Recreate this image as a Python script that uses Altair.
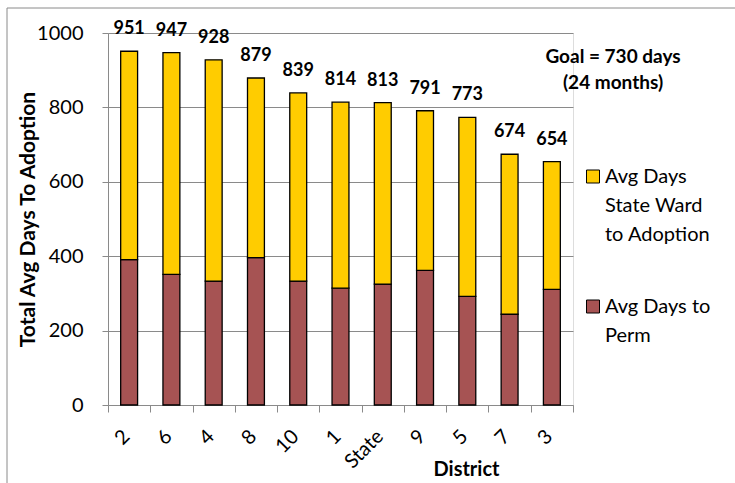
import altair as alt
import pandas as pd

# District order as plotted (sorted by total days, descending)
districts = ["2", "6", "4", "8", "10", "1", "State", "9", "5", "7", "3"]
# Total average days to adoption (labels above bars)
total_days = [951, 947, 928, 879, 839, 814, 813, 791, 773, 674, 654]
# Average days to permanency (lower segment)
perm_days = [391, 351, 333, 396, 333, 314, 325, 362, 292, 244, 311]

series_ward = "Avg Days State Ward to Adoption"
series_perm = "Avg Days to Perm"
series_colors = ["#FFCC00", "#A65353"]
goal_lines = ["Goal = 730 days", "(24 months)"]
y_ticks = [0, 200, 400, 600, 800, 1000]

GRAY = "#8a8a8a"
FONT = "Lato"
# square legend swatch raised so it sits beside the first text line
SWATCH = "M-1,-2H1V0H-1Z"

rows = []
for d, t, p in zip(districts, total_days, perm_days):
    rows.append({"District": d, "Series": series_perm, "Days": p, "Order": 0})
    rows.append({"District": d, "Series": series_ward, "Days": t - p, "Order": 1})
bars_df = pd.DataFrame(rows)
totals_df = pd.DataFrame({"District": districts, "Total": total_days})

x_enc = alt.X(
    "District:N",
    sort=districts,
    scale=alt.Scale(paddingInner=0, paddingOuter=0),
    axis=alt.Axis(
        title="District",
        titleFont=FONT, titleFontSize=20, titleFontWeight="bold", titleColor="black",
        titleX=358, titleY=70, titleAlign="center", titleBaseline="alphabetic",
        labelFont=FONT, labelFontSize=20, labelColor="black",
        labelAngle=-45, labelAlign="right", labelBaseline="middle", labelPadding=21,
        labelOffset=-3,
        tickBand="extent", tickSize=7, tickColor=GRAY,
        domainColor=GRAY, grid=False,
    ),
)

y_axis = alt.Axis(
    values=y_ticks,
    format="d",
    title="Total Avg Days To Adoption",
    titleFont=FONT, titleFontSize=21, titleFontWeight="bold", titleColor="black",
    titleAngle=-90, titleX=-74, titleY=186, titleAlign="center", titleBaseline="alphabetic",
    labelFont=FONT, labelFontSize=20, labelColor="black", labelPadding=19,
    tickSize=6, tickColor=GRAY, domainColor=GRAY,
    grid=True, gridColor=GRAY,
)
y_scale = alt.Scale(domain=[0, 1000], nice=False)

bars = alt.Chart(bars_df).mark_bar(
    width=alt.RelativeBandSize(0.4), stroke="black", strokeWidth=1.3
).encode(
    x=x_enc,
    y=alt.Y("Days:Q", stack="zero", scale=y_scale, axis=y_axis),
    color=alt.Color(
        "Series:N",
        scale=alt.Scale(domain=[series_ward, series_perm], range=series_colors),
        legend=alt.Legend(
            title=None, orient="none", legendX=475, legendY=140,
            symbolType=SWATCH, symbolSize=169, symbolStrokeColor="black",
            symbolStrokeWidth=1, labelFont=FONT, labelFontSize=20, labelColor="black",
            labelOffset=2, labelLimit=300, labelBaseline="alphabetic",
            rowPadding=52, padding=0,
            labelExpr=(
                "datum.label == 'Avg Days to Perm' ? ['Avg Days to', 'Perm'] : "
                "['Avg Days', 'State Ward', 'to Adoption']"
            ),
        ),
    ),
    order=alt.Order("Order:Q"),
)

labels = alt.Chart(totals_df).mark_text(
    font=FONT, fontSize=18, fontWeight="bold", color="black",
    baseline="alphabetic", dy=-17,
).encode(
    x=alt.X("District:N", sort=districts),
    y=alt.Y("Total:Q", scale=y_scale, axis=y_axis),
    text="Total:Q",
)

goal = alt.Chart(pd.DataFrame({"k": [0]})).mark_text(
    text=goal_lines, font=FONT, fontSize=19, fontWeight="bold", color="black",
    align="center", baseline="alphabetic", lineHeight=26,
).encode(x=alt.value(505), y=alt.value(30))

frame = alt.Chart(pd.DataFrame({"k": [0]})).mark_rect(
    fill="white", fillOpacity=0, stroke=GRAY, strokeWidth=1
).encode(
    x=alt.value(-101), x2=alt.value(700), y=alt.value(-25), y2=alt.value(500)
)

chart = alt.layer(frame, bars, labels, goal).properties(
    width=465,
    height=372,
    padding={"left": 108, "top": 33, "right": 162, "bottom": 78},
    autosize=alt.AutoSizeParams(type="none"),
    background="white",
).configure_view(stroke=None).configure(
    style={"guide-label": alt.MarkConfig(lineHeight=29)}
)

chart.save("out.html", embed_options={"renderer": "svg", "actions": False})
